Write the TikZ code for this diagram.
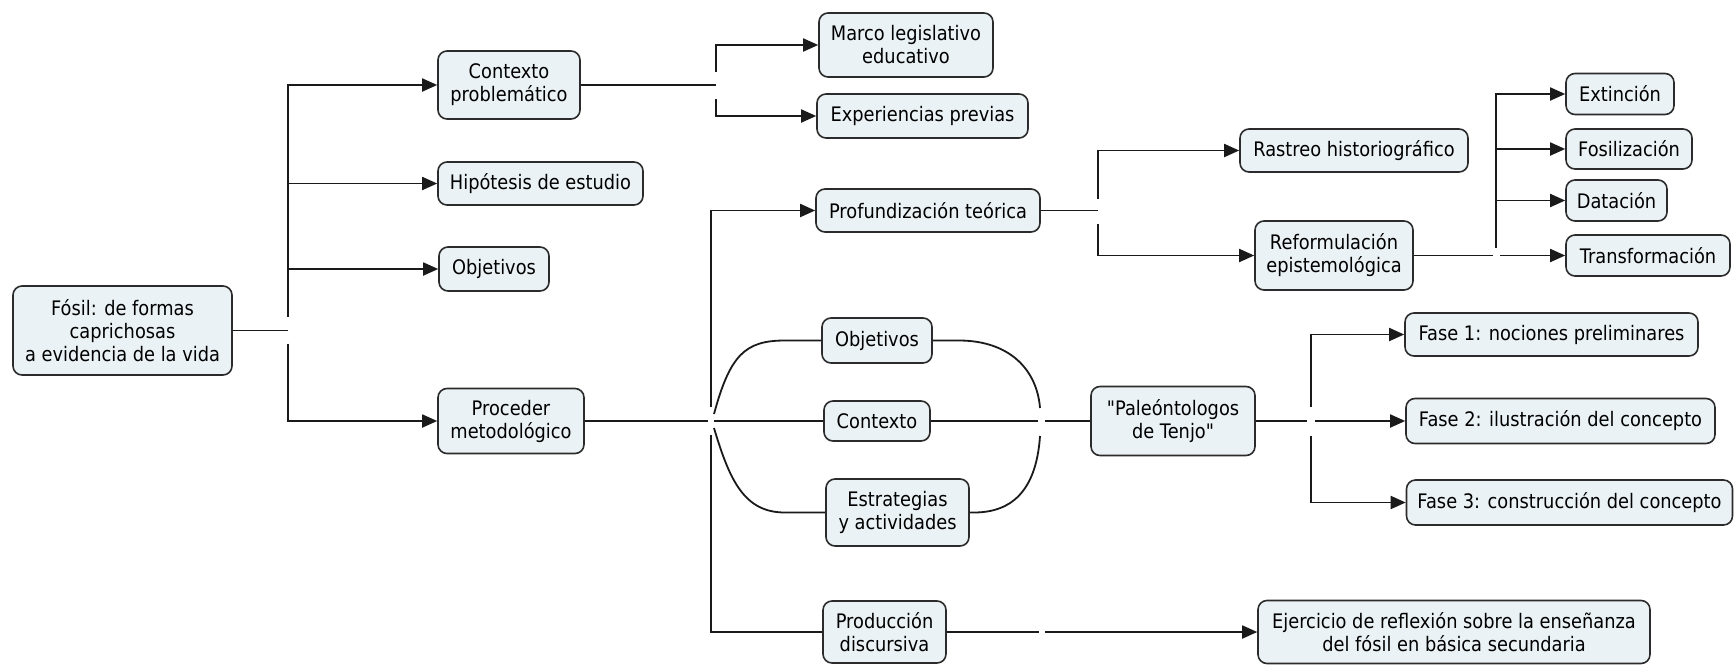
\documentclass[tikz,border=0pt]{standalone}
\usepackage{fontspec}
\newfontfamily\cmapfont{DejaVu Sans}[FakeStretch=0.89]
\usetikzlibrary{arrows.meta,calc}
\definecolor{boxfill}{HTML}{EBF2F5}
\definecolor{boxline}{HTML}{2B2B2B}
\definecolor{wire}{HTML}{1A1A1A}
\tikzset{
  concept/.style={draw=boxline, fill=boxfill, line width=1.6pt, rounded corners=9pt,
    align=center, inner sep=0pt, font=\cmapfont\fontsize{20}{23}\selectfont},
  link/.style={draw=wire, line width=1.8pt},
  tolink/.style={link, -{Triangle[length=15pt,width=13pt]}}
}
\begin{document}
\begin{tikzpicture}[x=1pt,y=-1pt]
\fill[white] (0,0) rectangle (1734,664);
\useasboundingbox (0,0) rectangle (1734,664);

% concepts
\node[concept, minimum width=219, minimum height=89] (fosil) at (122.5,330.5) {Fósil: de formas\\caprichosas\\a evidencia de la vida};
\node[concept, minimum width=142, minimum height=68] (ctx) at (509,85) {Contexto\\problemático};
\node[concept, minimum width=205, minimum height=43] (hip) at (540.5,183.5) {Hipótesis de estudio};
\node[concept, minimum width=110, minimum height=44] (obj) at (494,269) {Objetivos};
\node[concept, minimum width=146, minimum height=65] (proc) at (511,421) {Proceder\\metodológico};
\node[concept, minimum width=174, minimum height=64] (marco) at (906,45) {Marco legislativo\\educativo};
\node[concept, minimum width=211, minimum height=44] (exp) at (922.5,116) {Experiencias previas};
\node[concept, minimum width=224, minimum height=43] (prof) at (928,210.5) {Profundización teórica};
\node[concept, minimum width=110, minimum height=45] (objm) at (877,340.5) {Objetivos};
\node[concept, minimum width=106, minimum height=40] (ctxm) at (877,421) {Contexto};
\node[concept, minimum width=143, minimum height=67] (estr) at (897.5,512.5) {Estrategias\\y actividades};
\node[concept, minimum width=123, minimum height=62] (prod) at (884.5,632) {Producción\\discursiva};
\node[concept, minimum width=164, minimum height=69] (pal) at (1173,421) {"Paleóntologos\\de Tenjo"};
\node[concept, minimum width=228, minimum height=43] (ras) at (1354,150.5) {Rastreo historiográfico};
\node[concept, minimum width=158, minimum height=69] (ref) at (1334,255.5) {Reformulación\\epistemológica};
\node[concept, minimum width=108, minimum height=41] (ext) at (1620,94) {Extinción};
\node[concept, minimum width=126, minimum height=40] (fos) at (1629,149) {Fosilización};
\node[concept, minimum width=101, minimum height=41] (dat) at (1616.5,200.5) {Datación};
\node[concept, minimum width=164, minimum height=41] (tra) at (1648,255.5) {Transformación};
\node[concept, minimum width=293, minimum height=43] (f1) at (1551.5,334.5) {Fase 1: nociones preliminares};
\node[concept, minimum width=309, minimum height=45] (f2) at (1560.5,421) {Fase 2: ilustración del concepto};
\node[concept, minimum width=326, minimum height=45] (f3) at (1569.5,502.5) {Fase 3: construcción del concepto};
\node[concept, minimum width=392, minimum height=63] (ejer) at (1454,632) {Ejercicio de reflexión sobre la enseñanza\\del fósil en básica secundaria};

% junction points
\coordinate (j1) at (288,330.5);
\coordinate (j2) at (716,85);
\coordinate (j3) at (711,421);
\coordinate (j4) at (1098,210.5);
\coordinate (j5) at (1496,255.5);
\coordinate (j6) at (1311,421);
\coordinate (j7) at (1042,632);
\coordinate (jr) at (1042,421);

% main trunk
\draw[link] (fosil.east) -- (j1);
\draw[tolink] ($(j1)+(0,-14)$) |- (ctx.west);
\draw[tolink] (j1 |- hip.west) -- (hip.west);
\draw[tolink] (j1 |- obj.west) -- (obj.west);
\draw[tolink] ($(j1)+(0,13)$) |- (proc.west);

% context branch
\draw[link] (ctx.east) -- (j2);
\draw[tolink] ($(j2)+(0,-13)$) |- (marco.west);
\draw[tolink] ($(j2)+(0,14)$) |- (exp.west);

% methodology branch
\draw[link] (proc.east) -- ($(j3)+(-3,0)$);
\draw[link] ($(j3)+(3,0)$) -- (ctxm.west);
\draw[tolink] ($(j3)+(0,-14)$) |- (prof.west);
\draw[link] ($(j3)+(0,14)$) |- (prod.west);
\draw[link] ($(j3)+(3,-7)$) .. controls (730,355) and (745,340.5) .. (785,340.5) -- (objm.west);
\draw[link] ($(j3)+(3,7)$) .. controls (730,482) and (745,512.5) .. (785,512.5) -- (estr.west);
\draw[link] (objm.east) -- (960,340.5) .. controls (1010,341) and (1037,370) .. ($(jr)+(-2,-13)$);
\draw[link] (estr.east) -- (975,512.5) .. controls (1020,512) and (1037,480) .. ($(jr)+(-2,15)$);
\draw[link] (ctxm.east) -- ($(jr)+(-4,0)$);
\draw[link] ($(jr)+(3,0)$) -- (pal.west);

% theoretical branch
\draw[link] (prof.east) -- (j4);
\draw[tolink] ($(j4)+(0,-12)$) |- (ras.west);
\draw[tolink] ($(j4)+(0,13)$) |- (ref.west);

% epistemological reformulation
\draw[link] (ref.east) -- ($(j5)+(-3,0)$);
\draw[tolink] ($(j5)+(4,0)$) -- (tra.west);
\draw[tolink] ($(j5)+(0,-8)$) -- (j5 |- ext.west) -- (ext.west);
\draw[tolink] (j5 |- fos.west) -- (fos.west);
\draw[tolink] (j5 |- dat.west) -- (dat.west);

% phases
\draw[link] (pal.east) -- ($(j6)+(-4,0)$);
\draw[tolink] ($(j6)+(4,0)$) -- (f2.west);
\draw[tolink] ($(j6)+(0,-14)$) |- (f1.west);
\draw[tolink] ($(j6)+(0,15)$) |- (f3.west);

% discursive production
\draw[link] (prod.east) -- ($(j7)+(-3,0)$);
\draw[tolink] ($(j7)+(3,0)$) -- (ejer.west);
\end{tikzpicture}
\end{document}
